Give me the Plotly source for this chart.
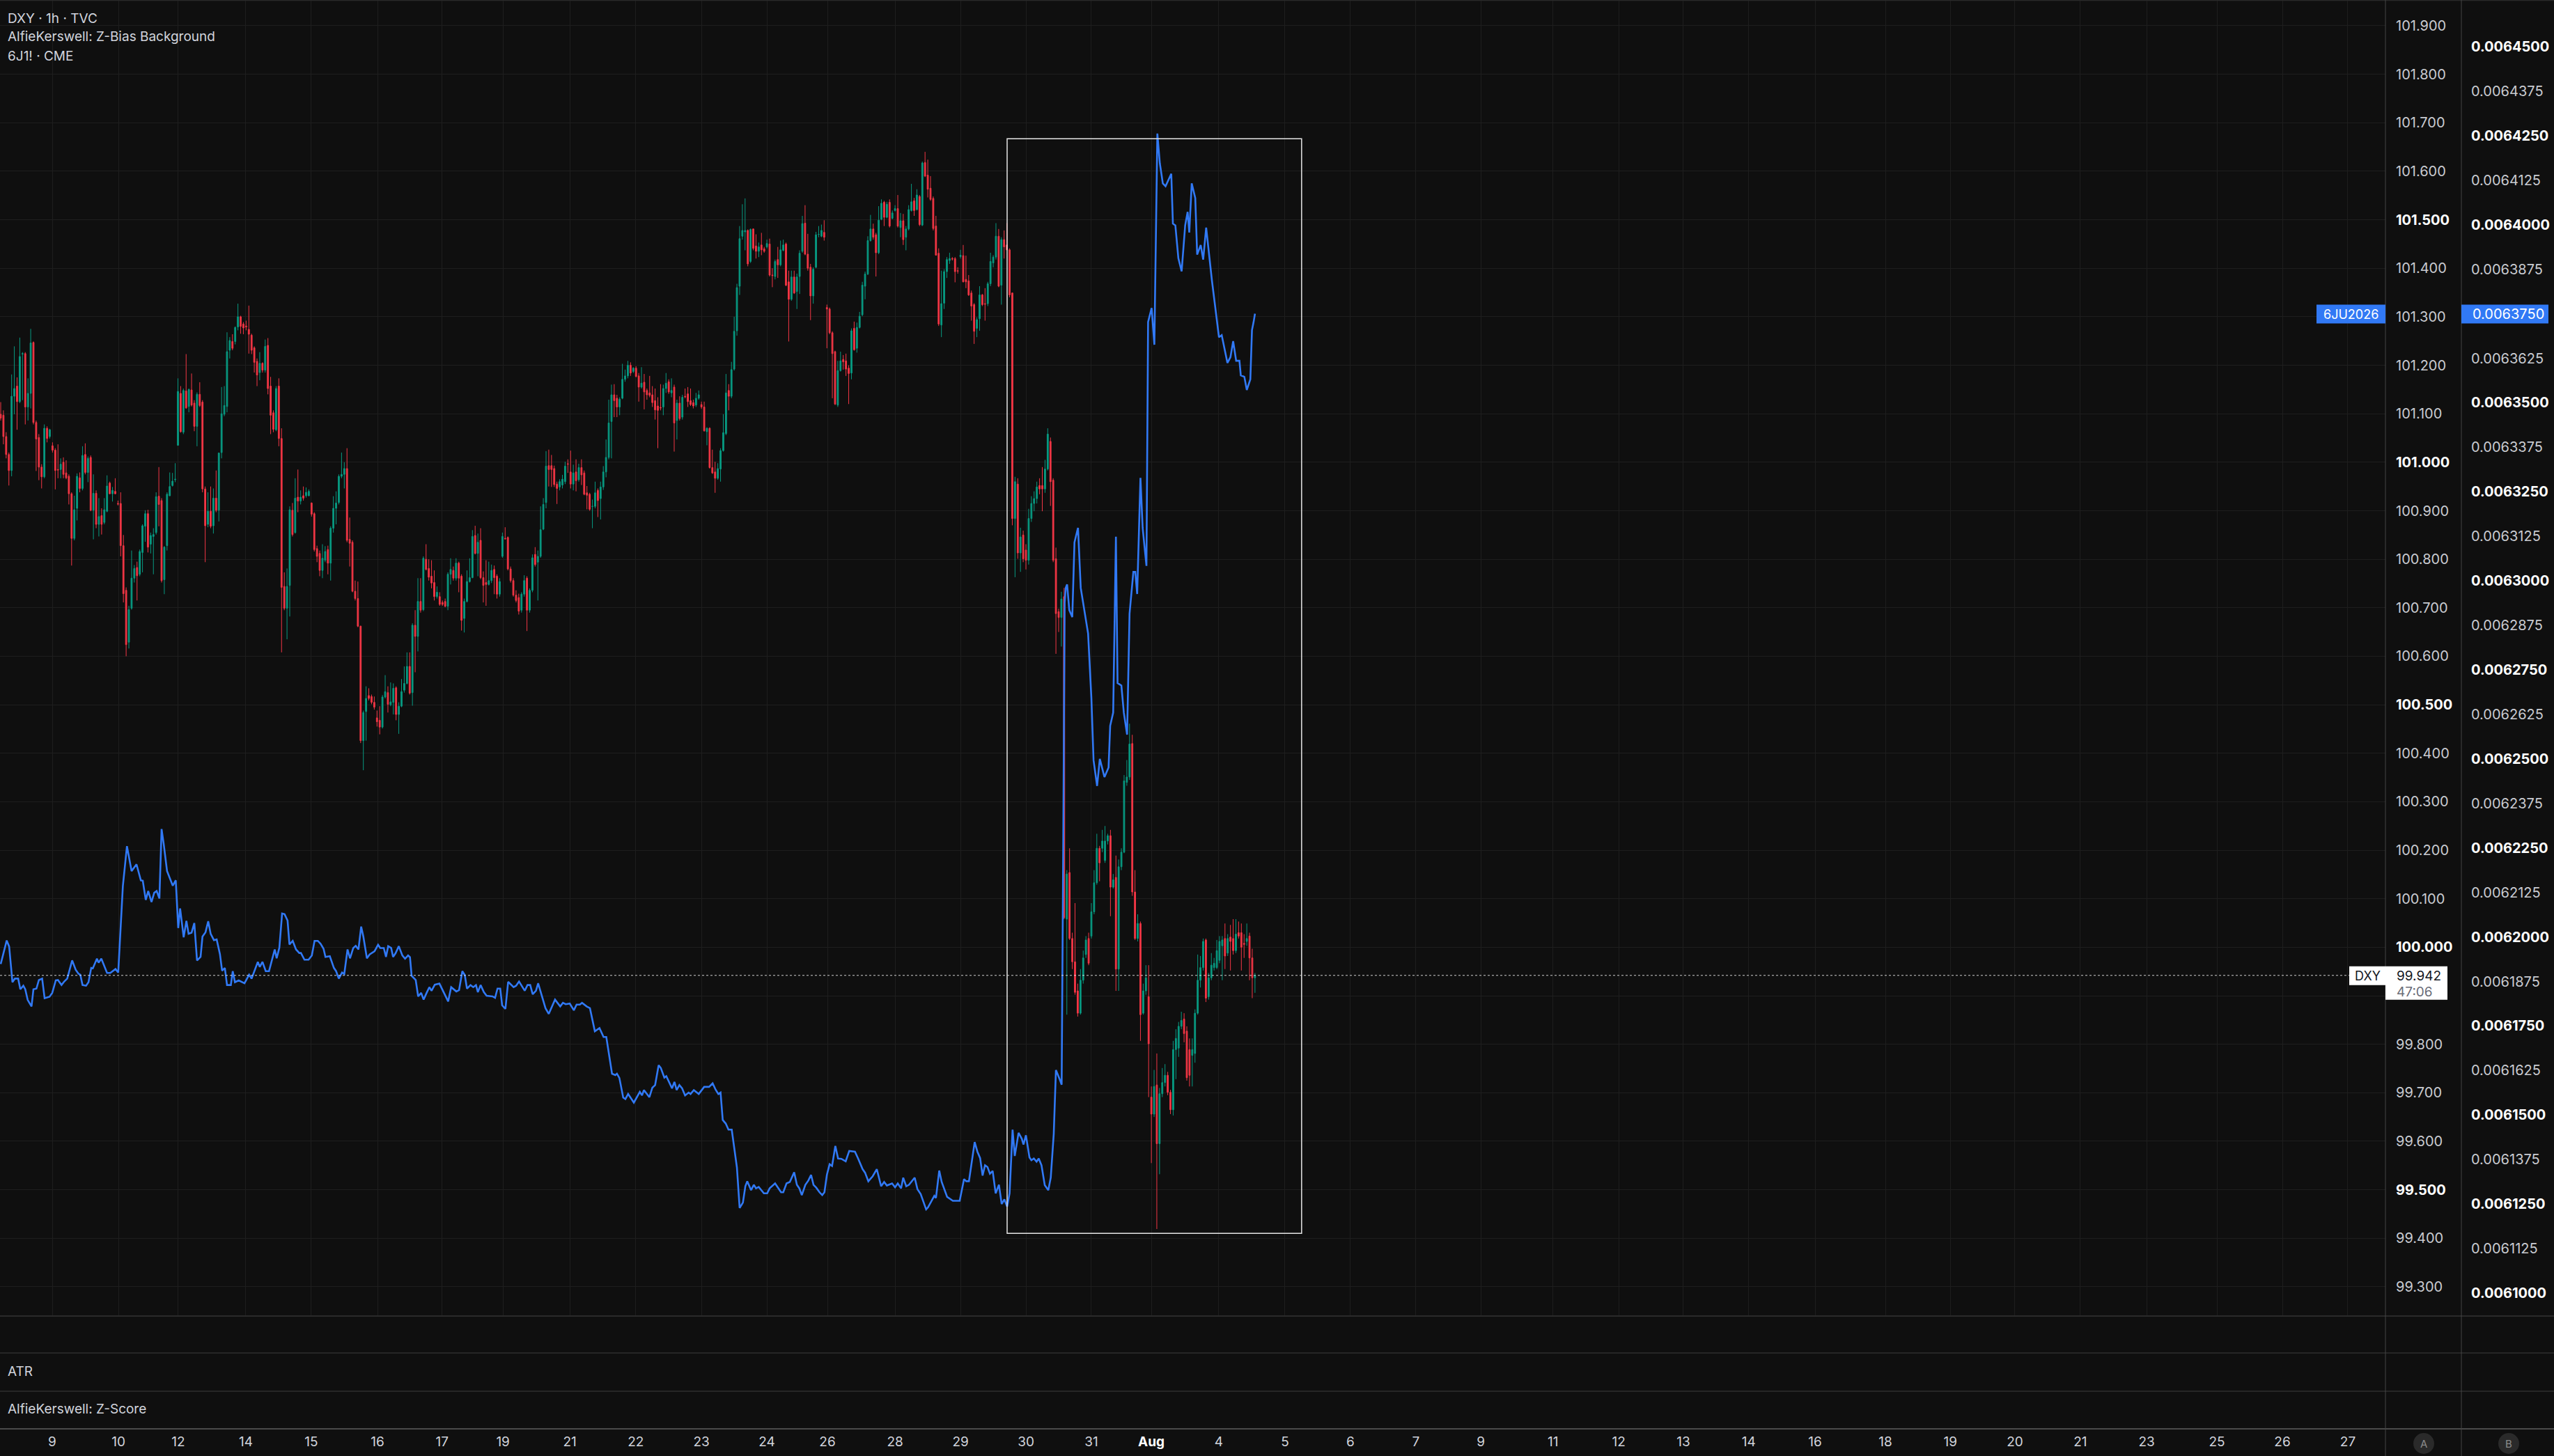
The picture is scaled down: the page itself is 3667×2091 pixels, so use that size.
import plotly.graph_objects as go

# DXY 1h candles (TVC); index 0 is the first visible hourly bar
dxy_open = [
    101.099, 101.097, 101.053, 101.016, 100.983, 101.136, 101.157, 101.125, 101.223, 101.224,
    101.114, 101.142, 101.247, 101.082, 101.051, 100.990, 100.970, 101.070, 101.053, 101.034,
    101.025, 100.985, 100.985, 101.000, 100.978, 100.971, 100.935, 100.843, 100.905, 100.968,
    100.946, 101.016, 100.979, 101.010, 100.901, 100.936, 100.872, 100.890, 100.876, 100.899,
    100.957, 100.935, 100.940, 100.915, 100.915, 100.828, 100.736, 100.629, 100.699, 100.761,
    100.783, 100.769, 100.814, 100.868, 100.894, 100.831, 100.847, 100.855, 100.930, 100.921,
    100.758, 100.828, 100.931, 100.952, 100.964, 101.035, 101.142, 101.062, 101.147, 101.115,
    101.149, 101.122, 101.074, 101.140, 101.124, 100.945, 100.872, 100.899, 100.869, 100.926,
    100.901, 101.020, 101.099, 101.115, 101.231, 101.249, 101.249, 101.279, 101.300, 101.285,
    101.281, 101.274, 101.262, 101.236, 101.208, 101.185, 101.204, 101.190, 101.241, 101.157,
    101.102, 101.067, 101.157, 101.049, 100.744, 100.699, 100.746, 100.901, 100.855, 100.928,
    100.920, 100.931, 100.931, 100.931, 100.916, 100.894, 100.822, 100.812, 100.777, 100.798,
    100.820, 100.792, 100.864, 100.905, 100.917, 100.971, 100.975, 100.987, 100.841, 100.835,
    100.734, 100.719, 100.662, 100.426, 100.486, 100.519, 100.517, 100.505, 100.473, 100.468,
    100.454, 100.516, 100.525, 100.500, 100.505, 100.535, 100.480, 100.497, 100.530, 100.544,
    100.579, 100.525, 100.664, 100.641, 100.713, 100.696, 100.800, 100.781, 100.765, 100.752,
    100.723, 100.723, 100.711, 100.713, 100.703, 100.769, 100.777, 100.761, 100.792, 100.765,
    100.678, 100.713, 100.754, 100.762, 100.849, 100.812, 100.839, 100.762, 100.752, 100.748,
    100.756, 100.779, 100.765, 100.728, 100.806, 100.843, 100.845, 100.780, 100.756, 100.726,
    100.721, 100.695, 100.728, 100.761, 100.695, 100.736, 100.810, 100.794, 100.806, 100.862,
    100.917, 100.993, 100.993, 100.987, 100.955, 100.949, 100.953, 100.960, 100.997, 100.980,
    100.955, 100.980, 100.964, 100.989, 100.978, 100.937, 100.934, 100.909, 100.909, 100.942,
    100.925, 100.949, 100.980, 101.010, 101.084, 101.139, 101.132, 101.114, 101.132, 101.171,
    101.178, 101.200, 101.187, 101.194, 101.178, 101.155, 101.165, 101.148, 101.143, 101.139,
    101.127, 101.116, 101.113, 101.114, 101.152, 101.166, 101.143, 101.155, 101.086, 101.122,
    101.093, 101.136, 101.141, 101.127, 101.123, 101.118, 101.132, 101.119, 101.114, 101.063,
    101.070, 100.989, 100.980, 100.967, 100.986, 101.024, 101.059, 101.148, 101.136, 101.192,
    101.271, 101.363, 101.466, 101.475, 101.478, 101.414, 101.481, 101.446, 101.435, 101.448,
    101.440, 101.444, 101.450, 101.386, 101.383, 101.418, 101.407, 101.437, 101.450, 101.372,
    101.336, 101.382, 101.352, 101.383, 101.435, 101.493, 101.429, 101.402, 101.343, 101.402,
    101.470, 101.466, 101.474, 101.319, 101.316, 101.267, 101.228, 101.118, 101.189, 101.212,
    101.209, 101.194, 101.184, 101.276, 101.235, 101.278, 101.304, 101.363, 101.388, 101.457,
    101.481, 101.469, 101.432, 101.501, 101.536, 101.505, 101.536, 101.503, 101.519, 101.523,
    101.484, 101.498, 101.464, 101.481, 101.519, 101.539, 101.521, 101.548, 101.489, 101.618,
    101.592, 101.565, 101.544, 101.487, 101.431, 101.283, 101.328, 101.393, 101.416, 101.420,
    101.420, 101.395, 101.424, 101.426, 101.377, 101.374, 101.349, 101.325, 101.276, 101.296,
    101.345, 101.327, 101.327, 101.368, 101.411, 101.423, 101.466, 101.365, 101.459, 101.448,
    101.438, 101.349, 100.884, 100.955, 100.813, 100.850, 100.819, 100.798, 100.884, 100.915,
    100.925, 100.952, 100.952, 100.945, 100.986, 101.043, 100.963, 100.801, 100.692, 100.680,
    100.723, 100.058, 100.154, 100.018, 99.970, 99.910, 99.864, 99.932, 99.985, 100.018,
    100.023, 100.073, 100.133, 100.204, 100.204, 100.179, 100.219, 100.230, 100.124, 100.144,
    99.955, 100.166, 100.196, 100.340, 100.351, 100.420, 100.114, 100.018, 100.049, 99.864,
    99.910, 99.898, 99.691, 99.656, 99.716, 99.595, 99.698, 99.721, 99.736, 99.701,
    99.665, 99.789, 99.792, 99.837, 99.852, 99.827, 99.789, 99.777, 99.781, 99.864,
    99.932, 99.958, 100.015, 99.898, 99.937, 99.958, 99.958, 99.973, 100.003, 100.018,
    99.988, 100.021, 100.018, 99.993, 100.030, 100.030, 100.008, 100.012, 100.023, 99.978,
    99.937,
]
dxy_high = [
    101.124, 101.107, 101.062, 101.020, 101.181, 101.239, 101.175, 101.257, 101.227, 101.227,
    101.173, 101.275, 101.249, 101.086, 101.058, 100.996, 101.078, 101.074, 101.069, 101.041,
    101.029, 101.037, 101.008, 101.010, 101.004, 100.975, 100.938, 100.931, 100.977, 100.979,
    101.033, 101.039, 101.012, 101.014, 100.975, 100.942, 100.926, 100.905, 100.926, 100.973,
    100.960, 100.949, 100.967, 100.921, 100.938, 100.850, 100.742, 100.704, 100.818, 100.788,
    100.795, 100.820, 100.872, 100.901, 100.902, 100.855, 100.864, 100.938, 100.990, 100.926,
    100.827, 100.938, 100.979, 100.978, 100.998, 101.173, 101.157, 101.152, 101.223, 101.152,
    101.183, 101.128, 101.144, 101.165, 101.128, 100.950, 100.938, 100.950, 100.946, 100.983,
    101.020, 101.155, 101.157, 101.268, 101.258, 101.264, 101.280, 101.327, 101.302, 101.289,
    101.292, 101.323, 101.265, 101.239, 101.214, 101.227, 101.206, 101.253, 101.256, 101.176,
    101.107, 101.157, 101.173, 101.070, 100.773, 100.781, 100.909, 100.916, 100.967, 100.985,
    100.942, 100.950, 100.948, 100.944, 100.917, 100.897, 100.828, 100.818, 100.831, 100.827,
    100.828, 100.868, 100.930, 100.940, 100.975, 101.020, 101.000, 101.029, 100.886, 100.839,
    100.756, 100.754, 100.663, 100.488, 100.538, 100.534, 100.521, 100.517, 100.488, 100.497,
    100.520, 100.561, 100.538, 100.546, 100.544, 100.538, 100.505, 100.553, 100.579, 100.608,
    100.608, 100.668, 100.695, 100.761, 100.761, 100.806, 100.831, 100.800, 100.798, 100.777,
    100.744, 100.732, 100.715, 100.719, 100.773, 100.802, 100.785, 100.802, 100.795, 100.769,
    100.719, 100.777, 100.802, 100.860, 100.869, 100.853, 100.864, 100.775, 100.798, 100.795,
    100.789, 100.787, 100.769, 100.761, 100.855, 100.866, 100.847, 100.785, 100.761, 100.736,
    100.729, 100.732, 100.767, 100.765, 100.740, 100.810, 100.825, 100.818, 100.909, 100.926,
    101.023, 101.026, 101.015, 100.993, 100.960, 100.965, 100.974, 101.001, 101.006, 101.024,
    100.995, 101.006, 100.997, 101.006, 100.983, 100.951, 100.937, 100.923, 100.960, 100.946,
    100.960, 100.992, 101.047, 101.129, 101.160, 101.161, 101.139, 101.134, 101.203, 101.191,
    101.209, 101.206, 101.196, 101.198, 101.184, 101.196, 101.182, 101.152, 101.178, 101.157,
    101.152, 101.134, 101.161, 101.160, 101.184, 101.171, 101.173, 101.160, 101.129, 101.136,
    101.139, 101.152, 101.155, 101.152, 101.129, 101.143, 101.148, 101.125, 101.125, 101.072,
    101.072, 101.026, 101.001, 100.998, 101.029, 101.099, 101.182, 101.161, 101.207, 101.300,
    101.368, 101.487, 101.532, 101.544, 101.480, 101.482, 101.482, 101.470, 101.453, 101.473,
    101.444, 101.459, 101.461, 101.400, 101.418, 101.444, 101.457, 101.459, 101.453, 101.395,
    101.395, 101.395, 101.389, 101.437, 101.508, 101.530, 101.471, 101.409, 101.402, 101.475,
    101.487, 101.490, 101.499, 101.325, 101.319, 101.270, 101.230, 101.209, 101.228, 101.221,
    101.224, 101.200, 101.276, 101.290, 101.288, 101.310, 101.372, 101.393, 101.466, 101.510,
    101.492, 101.473, 101.528, 101.542, 101.539, 101.537, 101.542, 101.519, 101.530, 101.551,
    101.514, 101.512, 101.487, 101.530, 101.574, 101.545, 101.563, 101.551, 101.620, 101.640,
    101.624, 101.590, 101.548, 101.508, 101.441, 101.395, 101.398, 101.423, 101.432, 101.423,
    101.423, 101.402, 101.438, 101.448, 101.426, 101.386, 101.354, 101.328, 101.299, 101.363,
    101.347, 101.359, 101.372, 101.432, 101.427, 101.493, 101.481, 101.464, 101.478, 101.493,
    101.441, 101.350, 100.970, 100.967, 100.865, 100.859, 100.831, 100.904, 100.930, 100.940,
    100.960, 100.967, 100.990, 101.005, 101.070, 101.051, 100.967, 100.824, 100.698, 100.733,
    100.741, 100.159, 100.204, 100.030, 100.091, 99.925, 99.955, 99.993, 100.023, 100.030,
    100.091, 100.159, 100.234, 100.209, 100.242, 100.250, 100.234, 100.242, 100.151, 100.189,
    100.181, 100.204, 100.355, 100.386, 100.461, 100.438, 100.159, 100.068, 100.053, 99.925,
    99.963, 99.963, 99.713, 99.747, 99.781, 99.710, 99.751, 99.759, 99.743, 99.706,
    99.807, 99.831, 99.846, 99.867, 99.864, 99.837, 99.812, 99.812, 99.872, 99.985,
    99.982, 100.018, 100.018, 99.947, 99.988, 99.978, 100.015, 100.023, 100.023, 100.049,
    100.027, 100.046, 100.058, 100.058, 100.053, 100.049, 100.027, 100.049, 100.030, 99.997,
    99.947,
]
dxy_low = [
    101.086, 101.037, 101.008, 100.952, 100.971, 101.099, 101.067, 101.122, 101.128, 101.078,
    101.086, 101.111, 101.078, 100.982, 100.963, 100.946, 100.967, 101.041, 101.049, 101.020,
    100.944, 100.967, 100.967, 100.967, 100.965, 100.913, 100.787, 100.839, 100.880, 100.938,
    100.942, 100.975, 100.959, 100.899, 100.841, 100.864, 100.847, 100.851, 100.872, 100.897,
    100.934, 100.919, 100.934, 100.911, 100.806, 100.711, 100.600, 100.616, 100.696, 100.752,
    100.715, 100.765, 100.773, 100.836, 100.814, 100.812, 100.769, 100.851, 100.868, 100.752,
    100.728, 100.818, 100.930, 100.950, 100.959, 101.034, 101.061, 101.058, 101.110, 101.103,
    101.115, 101.064, 101.033, 101.114, 100.938, 100.794, 100.866, 100.864, 100.853, 100.897,
    100.878, 101.008, 101.095, 101.103, 101.214, 101.231, 101.243, 101.272, 101.265, 101.264,
    101.272, 101.224, 101.223, 101.185, 101.157, 101.169, 101.185, 101.185, 101.140, 101.058,
    101.062, 101.064, 101.033, 100.608, 100.695, 100.635, 100.682, 100.847, 100.853, 100.897,
    100.913, 100.921, 100.927, 100.930, 100.888, 100.816, 100.794, 100.765, 100.761, 100.794,
    100.769, 100.756, 100.855, 100.872, 100.913, 100.967, 100.946, 100.835, 100.785, 100.732,
    100.715, 100.660, 100.421, 100.365, 100.426, 100.509, 100.501, 100.490, 100.455, 100.439,
    100.451, 100.513, 100.484, 100.497, 100.480, 100.468, 100.440, 100.495, 100.525, 100.542,
    100.521, 100.498, 100.567, 100.610, 100.690, 100.693, 100.777, 100.756, 100.740, 100.715,
    100.719, 100.704, 100.704, 100.701, 100.695, 100.748, 100.756, 100.756, 100.732, 100.653,
    100.649, 100.711, 100.752, 100.761, 100.810, 100.765, 100.759, 100.711, 100.704, 100.746,
    100.751, 100.728, 100.719, 100.723, 100.803, 100.841, 100.777, 100.752, 100.723, 100.711,
    100.686, 100.690, 100.723, 100.652, 100.690, 100.732, 100.785, 100.715, 100.803, 100.860,
    100.905, 100.950, 100.949, 100.949, 100.914, 100.942, 100.946, 100.955, 100.978, 100.946,
    100.942, 100.940, 100.960, 100.953, 100.932, 100.903, 100.900, 100.864, 100.905, 100.887,
    100.882, 100.943, 100.969, 101.006, 101.008, 101.093, 101.093, 101.097, 101.130, 101.166,
    101.173, 101.178, 101.184, 101.175, 101.125, 101.152, 101.109, 101.129, 101.134, 101.114,
    101.088, 101.029, 101.107, 101.097, 101.143, 101.141, 101.134, 101.022, 101.047, 101.086,
    101.088, 101.132, 101.114, 101.116, 101.111, 101.114, 101.129, 101.110, 101.063, 101.035,
    100.987, 100.976, 100.937, 100.964, 100.960, 101.022, 101.056, 101.107, 101.132, 101.189,
    101.261, 101.345, 101.459, 101.437, 101.404, 101.411, 101.437, 101.420, 101.423, 101.427,
    101.432, 101.441, 101.383, 101.361, 101.377, 101.380, 101.404, 101.435, 101.363, 101.249,
    101.333, 101.347, 101.316, 101.347, 101.432, 101.427, 101.395, 101.293, 101.327, 101.400,
    101.464, 101.464, 101.457, 101.235, 101.264, 101.132, 101.118, 101.114, 101.187, 101.191,
    101.178, 101.120, 101.171, 101.230, 101.226, 101.276, 101.301, 101.336, 101.386, 101.455,
    101.459, 101.383, 101.429, 101.499, 101.487, 101.503, 101.484, 101.501, 101.517, 101.484,
    101.464, 101.448, 101.437, 101.478, 101.517, 101.508, 101.519, 101.487, 101.487, 101.588,
    101.546, 101.539, 101.478, 101.426, 101.281, 101.258, 101.316, 101.380, 101.409, 101.416,
    101.371, 101.389, 101.420, 101.371, 101.359, 101.343, 101.292, 101.244, 101.258, 101.271,
    101.322, 101.292, 101.322, 101.363, 101.402, 101.418, 101.361, 101.325, 101.420, 101.437,
    101.340, 100.870, 100.763, 100.801, 100.774, 100.794, 100.779, 100.789, 100.877, 100.899,
    100.915, 100.934, 100.899, 100.937, 100.983, 100.910, 100.794, 100.605, 100.650, 100.620,
    100.058, 99.861, 100.015, 99.955, 99.902, 99.857, 99.861, 99.925, 99.978, 99.963,
    100.018, 100.068, 100.129, 100.136, 100.196, 100.174, 100.212, 100.064, 100.121, 99.910,
    99.910, 100.159, 100.194, 100.333, 100.345, 100.106, 100.015, 100.012, 99.807, 99.861,
    99.902, 99.691, 99.555, 99.650, 99.419, 99.532, 99.691, 99.713, 99.695, 99.656,
    99.653, 99.728, 99.774, 99.831, 99.804, 99.725, 99.713, 99.713, 99.762, 99.861,
    99.917, 99.952, 99.887, 99.892, 99.932, 99.952, 99.955, 99.967, 99.932, 99.955,
    99.982, 99.952, 99.985, 99.988, 100.018, 99.952, 99.978, 100.003, 99.932, 99.895,
    99.906,
]
dxy_close = [
    101.091, 101.053, 101.016, 100.983, 101.136, 101.152, 101.125, 101.218, 101.224, 101.114,
    101.142, 101.246, 101.082, 101.048, 100.990, 100.970, 101.070, 101.049, 101.067, 101.025,
    100.983, 100.984, 100.996, 100.975, 100.968, 100.935, 100.843, 100.902, 100.971, 100.946,
    101.014, 100.979, 101.008, 100.901, 100.936, 100.872, 100.888, 100.872, 100.902, 100.951,
    100.935, 100.942, 100.935, 100.914, 100.828, 100.729, 100.624, 100.696, 100.761, 100.781,
    100.766, 100.816, 100.869, 100.894, 100.825, 100.849, 100.851, 100.929, 100.913, 100.756,
    100.825, 100.934, 100.950, 100.961, 100.965, 101.146, 101.063, 101.148, 101.112, 101.150,
    101.118, 101.074, 101.140, 101.117, 100.945, 100.869, 100.899, 100.868, 100.926, 100.901,
    101.019, 101.100, 101.117, 101.228, 101.251, 101.235, 101.278, 101.300, 101.280, 101.277,
    101.279, 101.264, 101.231, 101.206, 101.180, 101.204, 101.190, 101.239, 101.152, 101.097,
    101.068, 101.152, 101.049, 100.742, 100.699, 100.744, 100.902, 100.851, 100.926, 100.920,
    100.928, 100.926, 100.938, 100.940, 100.893, 100.820, 100.806, 100.777, 100.802, 100.816,
    100.792, 100.864, 100.905, 100.916, 100.971, 100.975, 100.987, 100.839, 100.833, 100.734,
    100.719, 100.662, 100.426, 100.484, 100.513, 100.513, 100.505, 100.495, 100.465, 100.454,
    100.516, 100.527, 100.501, 100.506, 100.534, 100.480, 100.497, 100.527, 100.544, 100.579,
    100.524, 100.664, 100.641, 100.713, 100.695, 100.802, 100.779, 100.763, 100.751, 100.723,
    100.732, 100.707, 100.707, 100.703, 100.769, 100.779, 100.761, 100.792, 100.761, 100.674,
    100.713, 100.754, 100.762, 100.847, 100.812, 100.835, 100.762, 100.746, 100.748, 100.756,
    100.777, 100.762, 100.728, 100.754, 100.847, 100.842, 100.780, 100.756, 100.726, 100.715,
    100.693, 100.728, 100.756, 100.695, 100.736, 100.803, 100.789, 100.806, 100.861, 100.913,
    100.992, 100.985, 100.985, 100.954, 100.946, 100.960, 100.965, 100.992, 100.996, 100.955,
    100.978, 100.962, 100.989, 100.974, 100.934, 100.932, 100.903, 100.909, 100.937, 100.921,
    100.949, 100.980, 101.010, 101.081, 101.139, 101.127, 101.114, 101.130, 101.171, 101.178,
    101.200, 101.184, 101.194, 101.177, 101.155, 101.163, 101.145, 101.139, 101.138, 101.123,
    101.108, 101.107, 101.112, 101.152, 101.163, 101.145, 101.148, 101.081, 101.122, 101.090,
    101.134, 101.135, 101.125, 101.119, 101.116, 101.132, 101.139, 101.114, 101.065, 101.070,
    100.989, 100.978, 100.967, 100.987, 101.024, 101.061, 101.143, 101.136, 101.191, 101.270,
    101.360, 101.461, 101.478, 101.478, 101.409, 101.480, 101.441, 101.435, 101.444, 101.438,
    101.435, 101.451, 101.386, 101.385, 101.414, 101.407, 101.438, 101.448, 101.365, 101.336,
    101.382, 101.349, 101.382, 101.431, 101.492, 101.429, 101.400, 101.343, 101.398, 101.469,
    101.470, 101.478, 101.464, 101.316, 101.267, 101.224, 101.120, 101.189, 101.209, 101.207,
    101.192, 101.183, 101.271, 101.232, 101.278, 101.301, 101.365, 101.388, 101.457, 101.481,
    101.464, 101.432, 101.499, 101.534, 101.505, 101.532, 101.487, 101.514, 101.523, 101.487,
    101.498, 101.459, 101.481, 101.521, 101.537, 101.519, 101.551, 101.490, 101.617, 101.590,
    101.563, 101.542, 101.482, 101.427, 101.285, 101.327, 101.393, 101.418, 101.420, 101.419,
    101.393, 101.394, 101.427, 101.372, 101.372, 101.345, 101.322, 101.270, 101.294, 101.345,
    101.325, 101.326, 101.368, 101.414, 101.423, 101.466, 101.363, 101.459, 101.444, 101.438,
    101.345, 100.884, 100.960, 100.813, 100.846, 100.801, 100.798, 100.884, 100.915, 100.925,
    100.949, 100.945, 100.945, 100.986, 101.058, 100.960, 100.798, 100.688, 100.680, 100.718,
    100.061, 100.151, 100.018, 99.970, 99.907, 99.864, 99.932, 99.978, 100.015, 99.967,
    100.073, 100.133, 100.204, 100.174, 100.219, 100.219, 100.230, 100.124, 100.139, 99.955,
    100.166, 100.196, 100.343, 100.351, 100.419, 100.114, 100.018, 100.049, 99.861, 99.910,
    99.937, 99.801, 99.656, 99.713, 99.595, 99.698, 99.721, 99.736, 99.701, 99.665,
    99.789, 99.812, 99.837, 99.849, 99.822, 99.731, 99.736, 99.789, 99.864, 99.932,
    99.958, 100.012, 99.895, 99.937, 99.963, 99.967, 99.993, 100.012, 100.015, 99.982,
    100.018, 100.012, 99.993, 100.027, 100.023, 100.000, 100.006, 100.018, 99.978, 99.937,
    99.942,
]

# 6J1! (CME) line, on the same hourly bar index
jpy_bar = [
    0.0, 2.2, 3.1, 4.3, 5.2, 6.4, 7.2, 8.3, 9.0, 9.9,
    11.3, 12.0, 13.1, 14.0, 15.2, 16.1, 17.9, 18.9, 20.2, 21.0,
    22.3, 23.3, 24.4, 26.2, 27.5, 28.5, 29.2, 30.0, 31.3, 32.2,
    33.2, 33.8, 35.3, 35.9, 36.9, 39.0, 40.2, 42.1, 43.1, 44.8,
    46.3, 48.0, 49.8, 51.4, 52.1, 53.2, 54.1, 55.3, 56.3, 57.2,
    58.2, 59.0, 59.8, 61.0, 63.1, 64.2, 65.1, 65.8, 67.1, 68.1,
    68.9, 70.0, 71.0, 72.0, 73.3, 74.0, 75.1, 76.1, 77.0, 78.2,
    79.2, 80.4, 81.2, 82.2, 83.0, 84.4, 85.1, 85.9, 87.3, 89.4,
    91.1, 92.0, 94.3, 95.0, 96.0, 97.2, 98.4, 99.4, 100.5, 101.2,
    102.2, 103.2, 104.1, 105.2, 105.9, 107.1, 108.3, 109.5, 110.1, 111.4,
    112.9, 114.1, 115.1, 116.3, 117.3, 118.4, 119.1, 120.7, 122.2, 123.0,
    124.0, 125.2, 126.0, 127.2, 128.1, 129.3, 130.2, 131.2, 132.2, 133.0,
    134.3, 135.3, 137.1, 138.4, 139.2, 140.5, 141.3, 142.1, 143.2, 143.9,
    144.8, 146.0, 147.3, 148.3, 149.4, 150.1, 150.7, 152.2, 153.1, 154.2,
    155.1, 156.2, 157.2, 158.0, 159.2, 160.9, 162.1, 164.1, 165.2, 167.1,
    168.1, 169.3, 170.2, 171.0, 172.3, 173.3, 174.3, 175.0, 176.0, 177.2,
    178.2, 180.4, 181.3, 182.2, 183.2, 183.9, 185.1, 186.1, 188.1, 189.0,
    190.1, 192.2, 193.2, 194.2, 195.1, 196.3, 197.1, 199.8, 201.0, 203.3,
    205.2, 206.2, 207.2, 208.7, 210.2, 211.2, 212.4, 213.2, 214.9, 216.1,
    217.9, 219.6, 221.1, 222.1, 224.2, 225.4, 226.0, 226.9, 228.3, 229.1,
    230.1, 232.2, 234.4, 235.2, 235.9, 237.9, 239.0, 240.0, 241.3, 242.1,
    243.4, 244.1, 246.2, 247.1, 247.9, 248.9, 249.9, 251.0, 252.3, 253.0,
    254.2, 256.0, 258.0, 259.8, 261.1, 262.2, 263.2, 264.0, 264.8, 265.9,
    266.9, 268.1, 270.0, 271.0, 272.2, 273.1, 273.8, 275.2, 276.2, 277.0,
    278.0, 279.9, 281.1, 282.0, 284.0, 286.2, 287.0, 288.2, 289.4, 291.0,
    292.0, 292.9, 293.8, 295.1, 296.2, 297.2, 298.1, 299.1, 300.3, 301.3,
    302.1, 303.0, 304.0, 304.9, 306.1, 307.1, 308.3, 309.9, 311.2, 313.3,
    314.5, 316.1, 317.0, 318.2, 319.8, 321.3, 322.9, 324.0, 325.0, 326.9,
    328.0, 329.0, 330.2, 331.0, 332.1, 333.1, 335.2, 336.2, 337.4, 339.4,
    340.1, 342.4, 343.0, 344.2, 345.1, 347.1, 349.2, 351.7, 353.3, 354.1,
    355.1, 357.2, 358.2, 359.2, 360.1, 361.0, 361.9, 362.8, 363.8, 364.9,
    366.1, 367.1, 368.1, 369.1, 370.0, 371.1, 371.9, 373.3, 374.5, 375.1,
    376.0, 377.3, 378.0, 378.9, 379.9, 380.7, 381.7, 382.9, 384.2, 385.1,
    386.2, 387.0, 388.3, 389.1, 389.7, 390.2, 390.6, 391.1, 391.9, 393.0,
    393.8, 395.1, 396.1, 397.4, 398.8, 400.0, 400.8, 402.1, 403.1, 404.8,
    406.3, 406.9, 408.0, 409.0, 409.6, 411.0, 411.9, 413.1, 414.0, 415.4,
    416.1, 416.8, 418.0, 418.8, 420.2, 420.8, 422.1, 423.1, 424.2, 425.1,
    426.2, 427.2, 429.3, 429.9, 430.8, 431.9, 433.1, 434.4, 435.3, 435.9,
    436.8, 438.1, 438.8, 440.1, 441.0, 442.1, 444.2, 446.8, 447.8, 449.9,
    451.0, 452.0, 453.1, 454.3, 454.8, 456.1, 457.0, 458.3, 458.9, 459.5,
    460.0,
]
jpy_price = [
    0.0061924, 0.0061990, 0.0061973, 0.0061873, 0.0061883, 0.0061883, 0.0061853, 0.0061863, 0.0061853, 0.0061823,
    0.0061805, 0.0061853, 0.0061855, 0.0061879, 0.0061883, 0.0061828, 0.0061832, 0.0061843, 0.0061878, 0.0061879,
    0.0061865, 0.0061875, 0.0061883, 0.0061934, 0.0061908, 0.0061897, 0.0061894, 0.0061865, 0.0061863, 0.0061873,
    0.0061913, 0.0061912, 0.0061939, 0.0061928, 0.0061939, 0.0061899, 0.0061899, 0.0061910, 0.0061900, 0.0062143,
    0.0062255, 0.0062185, 0.0062204, 0.0062159, 0.0062158, 0.0062104, 0.0062129, 0.0062098, 0.0062124, 0.0062129,
    0.0062108, 0.0062303, 0.0062260, 0.0062185, 0.0062144, 0.0062159, 0.0062025, 0.0062080, 0.0061999, 0.0062045,
    0.0062009, 0.0062012, 0.0062039, 0.0061934, 0.0061944, 0.0062001, 0.0062013, 0.0062044, 0.0062009, 0.0061991,
    0.0061993, 0.0061952, 0.0061905, 0.0061913, 0.0061865, 0.0061865, 0.0061904, 0.0061873, 0.0061878, 0.0061870,
    0.0061894, 0.0061883, 0.0061930, 0.0061916, 0.0061930, 0.0061904, 0.0061904, 0.0061936, 0.0061965, 0.0061940,
    0.0061970, 0.0062066, 0.0062064, 0.0062046, 0.0061979, 0.0061989, 0.0061965, 0.0061955, 0.0061955, 0.0061936,
    0.0061936, 0.0061948, 0.0061989, 0.0061989, 0.0061981, 0.0061967, 0.0061944, 0.0061946, 0.0061913, 0.0061904,
    0.0061883, 0.0061900, 0.0061896, 0.0061965, 0.0061940, 0.0061969, 0.0061975, 0.0061965, 0.0062029, 0.0062001,
    0.0061940, 0.0061951, 0.0061960, 0.0061978, 0.0061969, 0.0061969, 0.0061944, 0.0061974, 0.0061969, 0.0061944,
    0.0061954, 0.0061974, 0.0061948, 0.0061939, 0.0061948, 0.0061943, 0.0061891, 0.0061879, 0.0061833, 0.0061843,
    0.0061824, 0.0061843, 0.0061859, 0.0061849, 0.0061866, 0.0061869, 0.0061851, 0.0061819, 0.0061859, 0.0061847,
    0.0061851, 0.0061904, 0.0061893, 0.0061855, 0.0061865, 0.0061859, 0.0061865, 0.0061845, 0.0061865, 0.0061845,
    0.0061835, 0.0061833, 0.0061829, 0.0061855, 0.0061855, 0.0061808, 0.0061798, 0.0061874, 0.0061859, 0.0061863,
    0.0061875, 0.0061849, 0.0061865, 0.0061865, 0.0061839, 0.0061849, 0.0061870, 0.0061800, 0.0061784, 0.0061824,
    0.0061805, 0.0061815, 0.0061811, 0.0061813, 0.0061794, 0.0061810, 0.0061810, 0.0061815, 0.0061805, 0.0061800,
    0.0061735, 0.0061744, 0.0061719, 0.0061719, 0.0061616, 0.0061612, 0.0061616, 0.0061604, 0.0061549, 0.0061545,
    0.0061559, 0.0061535, 0.0061565, 0.0061555, 0.0061570, 0.0061550, 0.0061577, 0.0061584, 0.0061640, 0.0061632,
    0.0061605, 0.0061609, 0.0061575, 0.0061593, 0.0061570, 0.0061584, 0.0061575, 0.0061555, 0.0061563, 0.0061559,
    0.0061570, 0.0061559, 0.0061579, 0.0061579, 0.0061589, 0.0061571, 0.0061559, 0.0061563, 0.0061486, 0.0061476,
    0.0061459, 0.0061459, 0.0061353, 0.0061239, 0.0061254, 0.0061300, 0.0061314, 0.0061289, 0.0061304, 0.0061294,
    0.0061298, 0.0061280, 0.0061280, 0.0061294, 0.0061308, 0.0061283, 0.0061283, 0.0061308, 0.0061312, 0.0061339,
    0.0061304, 0.0061294, 0.0061275, 0.0061304, 0.0061316, 0.0061332, 0.0061304, 0.0061296, 0.0061283, 0.0061275,
    0.0061283, 0.0061332, 0.0061362, 0.0061357, 0.0061413, 0.0061378, 0.0061377, 0.0061370, 0.0061399, 0.0061397,
    0.0061377, 0.0061348, 0.0061338, 0.0061314, 0.0061328, 0.0061348, 0.0061300, 0.0061312, 0.0061302, 0.0061308,
    0.0061297, 0.0061308, 0.0061294, 0.0061324, 0.0061300, 0.0061304, 0.0061324, 0.0061292, 0.0061278, 0.0061235,
    0.0061241, 0.0061273, 0.0061267, 0.0061344, 0.0061312, 0.0061270, 0.0061259, 0.0061259, 0.0061320, 0.0061314,
    0.0061314, 0.0061424, 0.0061397, 0.0061379, 0.0061330, 0.0061359, 0.0061354, 0.0061335, 0.0061343, 0.0061280,
    0.0061304, 0.0061250, 0.0061263, 0.0061243, 0.0061280, 0.0061459, 0.0061385, 0.0061450, 0.0061433, 0.0061417,
    0.0061443, 0.0061381, 0.0061373, 0.0061378, 0.0061369, 0.0061378, 0.0061359, 0.0061303, 0.0061289, 0.0061324,
    0.0061447, 0.0061626, 0.0061602, 0.0061585, 0.0062280, 0.0062939, 0.0062980, 0.0062990, 0.0062918, 0.0062898,
    0.0063108, 0.0063149, 0.0062980, 0.0062918, 0.0062852, 0.0062671, 0.0062496, 0.0062424, 0.0062500, 0.0062449,
    0.0062476, 0.0062593, 0.0062630, 0.0063124, 0.0062713, 0.0062706, 0.0062630, 0.0062568, 0.0062908, 0.0063025,
    0.0063025, 0.0062963, 0.0063289, 0.0063149, 0.0063042, 0.0063727, 0.0063766, 0.0063663, 0.0064256, 0.0064173,
    0.0064116, 0.0064108, 0.0064143, 0.0064003, 0.0063998, 0.0063906, 0.0063869, 0.0063998, 0.0064036, 0.0063978,
    0.0064116, 0.0064075, 0.0063916, 0.0063943, 0.0063902, 0.0063992, 0.0063844, 0.0063684, 0.0063690, 0.0063612,
    0.0063628, 0.0063673, 0.0063618, 0.0063618, 0.0063577, 0.0063573, 0.0063536, 0.0063566, 0.0063704, 0.0063727,
    0.0063750,
]

# time scale: bar index where each date label sits (future dates continue the spacing)
date_tick_bars = [
    18.9, 43.2, 65.1, 89.9, 113.9, 138.2, 161.9, 184.2, 208.7, 232.9,
    257.0, 281.0, 303.2, 328.0, 352.0, 376.0, 400.0, 422.0, 446.7, 471.0,
    495.0, 519.0, 542.8, 569.3, 593.4, 617.1, 641.1, 665.4, 691.2, 715.0,
    738.7, 762.7, 787.0, 812.8, 836.8, 860.8,
]
date_tick_labels = [
    "9", "10", "12", "14", "15", "16", "17", "19", "21", "22",
    "23", "24", "26", "28", "29", "30", "31", "Aug", "4", "5",
    "6", "7", "9", "11", "12", "13", "14", "16", "18", "19",
    "20", "21", "23", "25", "26", "27",
]

dxy_ticks = [
    99.3, 99.4, 99.5, 99.6, 99.7, 99.8, 99.9, 100.0, 100.1, 100.2,
    100.3, 100.4, 100.5, 100.6, 100.7, 100.8, 100.9, 101.0, 101.1, 101.2,
    101.3, 101.4, 101.5, 101.6, 101.7, 101.8, 101.9,
]
jpy_ticks = [
    0.0061, 0.0061125, 0.006125, 0.0061375, 0.00615, 0.0061625, 0.006175, 0.0061875,
    0.0062, 0.0062125, 0.006225, 0.0062375, 0.00625, 0.0062625, 0.006275, 0.0062875,
    0.0063, 0.0063125, 0.006325, 0.0063375, 0.00635, 0.0063625, 0.006375, 0.0063875,
    0.0064, 0.0064125, 0.006425, 0.0064375, 0.00645, 0.0064625,
]

last_dxy = 99.942
last_jpy = 0.006375
countdown = "47:06"
# drawn rectangle (bar index span, DXY price span)
box_bars = [369.1, 477.1]
box_prices = [99.410, 101.667]

assert len(dxy_open) == len(dxy_high) == len(dxy_low) == len(dxy_close)
assert len(jpy_bar) == len(jpy_price)
assert len(date_tick_bars) == len(date_tick_labels)

# ---- page geometry (pixels) ----
W, H = 3667, 2091
PLOT_H = 2052        # bottom of the pane stack, time scale below
MAIN_BOTTOM = 1890   # bottom of the price pane
AXIS_A_X = 3425      # left edge of the DXY price scale
AXIS_B_X = 3534      # left edge of the 6J price scale

BG = "#0f0f0f"
GRID = "#1e1e1e"
UP = "#089981"
DOWN = "#f23645"
BLUE = "#3179f5"
TXT = "#d1d4dc"
FONT = "Inter, Roboto, sans-serif"


def xp(px):
    return px / W


def yp(py):
    return (PLOT_H - py) / PLOT_H


def dxy_label(v):
    # the 99.900 label sits under the last-price tag
    if abs(v - 99.9) < 1e-9:
        return ""
    s = f"{v:.3f}"
    if round(v * 10) % 5 == 0:
        return f"<b><span style='color:#ffffff'>{s}</span></b>"
    return s


def jpy_label(v):
    # the last-price tag covers its own level
    if abs(v - last_jpy) < 1e-10:
        return ""
    s = f"{v:.7f}"
    if round(v / 0.0000125) % 2 == 0:
        return f"<b><span style='color:#ffffff'>{s}</span></b>"
    return s


def date_label(t):
    if t.isalpha():
        return f"<b><span style='color:#ffffff'>{t}</span></b>"
    return t


def text(t, px, py, size=19, color=TXT, xanchor="left"):
    return dict(text=t, x=xp(px), y=yp(py), xref="paper", yref="paper",
                xanchor=xanchor, yanchor="middle", showarrow=False,
                font=dict(size=size, color=color, family=FONT))


bars = list(range(len(dxy_close)))

fig = go.Figure()
fig.add_trace(go.Candlestick(
    x=bars, open=dxy_open, high=dxy_high, low=dxy_low, close=dxy_close,
    increasing=dict(line=dict(color=UP, width=1), fillcolor=UP),
    decreasing=dict(line=dict(color=DOWN, width=1), fillcolor=DOWN),
    whiskerwidth=0, hoverinfo="skip", showlegend=False,
    xaxis="x", yaxis="y",
))
fig.add_trace(go.Scatter(
    x=jpy_bar, y=jpy_price, mode="lines",
    line=dict(color=BLUE, width=2.6),
    hoverinfo="skip", showlegend=False, xaxis="x", yaxis="y2",
))
# empty trace so the lower pane / time scale exists
fig.add_trace(go.Scatter(x=[None], y=[None], xaxis="x2", yaxis="y3",
                         showlegend=False, hoverinfo="skip"))

shapes = []
# pane separators, time scale border, top border
for py, col, w in [(1890, "#2a2a2a", 2), (1943, "#262626", 2), (1998, "#262626", 2),
                   (PLOT_H, "#4a4a4a", 2), (0.5, "#2a2a2a", 1.5)]:
    shapes.append(dict(type="line", xref="paper", yref="paper", x0=0, x1=1,
                       y0=yp(py), y1=yp(py), line=dict(color=col, width=w)))
# price scale borders
for px in (AXIS_A_X, AXIS_B_X):
    shapes.append(dict(type="line", xref="paper", yref="paper", x0=xp(px), x1=xp(px),
                       y0=yp(H), y1=1, line=dict(color="#444444", width=1)))
# last price dotted line
shapes.append(dict(type="line", xref="paper", yref="y", x0=0, x1=xp(3373),
                   y0=last_dxy, y1=last_dxy,
                   line=dict(color="rgba(255,255,255,0.8)", width=1, dash="dot")))
# drawn range box
shapes.append(dict(type="rect", xref="x", yref="y", x0=box_bars[0], x1=box_bars[1],
                   y0=box_prices[0], y1=box_prices[1],
                   line=dict(color="#e6e6e6", width=1.5)))
# price scale labels
shapes.append(dict(type="rect", xref="paper", yref="y", ysizemode="pixel", yanchor=last_dxy,
                   x0=xp(3373), x1=xp(AXIS_A_X), y0=-14, y1=13,
                   fillcolor="#ffffff", line=dict(width=0)))
shapes.append(dict(type="rect", xref="paper", yref="y", ysizemode="pixel", yanchor=last_dxy,
                   x0=xp(AXIS_A_X), x1=xp(3514), y0=-35, y1=13,
                   fillcolor="#ffffff", line=dict(width=0)))
shapes.append(dict(type="rect", xref="paper", yref="y2", ysizemode="pixel", yanchor=last_jpy,
                   x0=xp(3326), x1=xp(AXIS_A_X), y0=-14, y1=13,
                   fillcolor=BLUE, line=dict(width=0)))
shapes.append(dict(type="rect", xref="paper", yref="y2", ysizemode="pixel", yanchor=last_jpy,
                   x0=xp(AXIS_B_X), x1=xp(3659), y0=-14, y1=13,
                   fillcolor=BLUE, line=dict(width=0)))
# A / B scale buttons
for px in (3480, 3602):
    shapes.append(dict(type="circle", xref="paper", yref="paper",
                       xsizemode="pixel", ysizemode="pixel",
                       xanchor=xp(px), yanchor=yp(2073), x0=-15, x1=15, y0=-15, y1=15,
                       fillcolor="#2a2a2a", line=dict(width=0)))

annotations = [
    text("DXY · 1h · TVC", 9, 26),
    text("AlfieKerswell: Z-Bias Background", 9, 53),
    text("6J1! · CME", 9, 80),
    text("ATR", 9, 1969),
    text("AlfieKerswell: Z-Score", 9, 2023),
    text("DXY", 3399, 1401, size=18, color="#131722", xanchor="center"),
    text(f"{last_dxy:.3f}", 3439, 1401, color="#131722"),
    text(countdown, 3439, 1424, color="#6a6d78"),
    text("6JU2026", 3375, 451, size=18, color="#ffffff", xanchor="center"),
    text(f"{last_jpy:.7f}", 3548, 451, size=20, color="#ffffff"),
    text("A", 3480, 2073, size=15, color="#8a8a8a", xanchor="center"),
    text("B", 3602, 2073, size=15, color="#8a8a8a", xanchor="center"),
]

fig.update_layout(
    width=W, height=H,
    margin=dict(l=0, r=0, t=0, b=H - PLOT_H, pad=0),
    paper_bgcolor=BG, plot_bgcolor=BG,
    font=dict(family=FONT, color=TXT, size=19),
    showlegend=False, hovermode=False,
    boxgap=0.35,
    xaxis=dict(domain=[0, xp(AXIS_A_X)], range=[-0.26, 874.6], anchor="y",
               tickvals=date_tick_bars, showticklabels=False, ticks="",
               showgrid=True, gridcolor=GRID, gridwidth=1, zeroline=False,
               showline=False, rangeslider=dict(visible=False)),
    xaxis2=dict(domain=[0, xp(AXIS_A_X)], matches="x", anchor="y3",
                tickvals=date_tick_bars,
                ticktext=[date_label(t) for t in date_tick_labels], ticks="",
                showgrid=False, zeroline=False, showline=False,
                tickfont=dict(size=19, color=TXT, family=FONT), ticklabelstandoff=5),
    yaxis=dict(domain=[yp(MAIN_BOTTOM), 1], range=[99.2396, 101.9531],
               anchor="free", position=xp(AXIS_A_X), side="right",
               tickvals=dxy_ticks, ticktext=[dxy_label(v) for v in dxy_ticks],
               ticks="", showgrid=True, gridcolor=GRID, gridwidth=1,
               zeroline=False, showline=False,
               tickfont=dict(size=20, color="#c9cbd1", family=FONT), ticklabelstandoff=14),
    yaxis2=dict(overlaying="y", range=[0.00609355, 0.0064631],
                anchor="free", position=xp(AXIS_B_X), side="right",
                tickvals=jpy_ticks, ticktext=[jpy_label(v) for v in jpy_ticks],
                ticks="", showgrid=False, zeroline=False, showline=False,
                tickfont=dict(size=20, color="#c9cbd1", family=FONT), ticklabelstandoff=13),
    yaxis3=dict(domain=[0, yp(MAIN_BOTTOM)], range=[0, 1], anchor="x2",
                showticklabels=False, showgrid=False, zeroline=False, ticks=""),
    shapes=shapes,
    annotations=annotations,
)

fig.write_html(
    "out.html",
    config={"displayModeBar": False, "staticPlot": True},
    post_script="document.body.style.margin='0';document.body.style.overflow='hidden';",
)
